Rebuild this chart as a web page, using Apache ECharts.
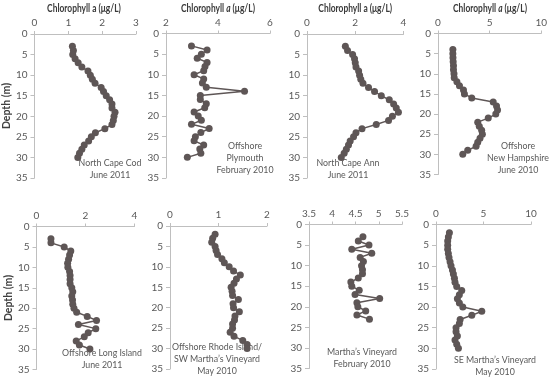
<!DOCTYPE html>
<html><head><meta charset="utf-8">
<script src="https://cdn.jsdelivr.net/npm/echarts@6/dist/echarts.min.js"></script>
<style>html,body{margin:0;padding:0;background:#fff}#c{width:550px;height:382px}</style>
</head><body><div id="c"></div>
<script>
// ---- data ----
var depthCapeCod = [3,4,5,6,7,8,9,10,11,12,13,14,15,16,17,18,19,20,21,22,23,24,25,26,27,28,29,30];
var chlCapeCod = [1.12,1.15,1.13,1.2,1.29,1.4,1.58,1.65,1.71,1.79,1.97,2.04,2.12,2.22,2.29,2.29,2.38,2.35,2.33,2.29,2.08,1.8,1.68,1.6,1.47,1.4,1.33,1.28];
var depthPlymouth = [3,4,5,6,7,8,9,10,11,12,13,14,15,16,17,18,19,20,21,22,23,24,25,26,27,28,29,30];
var chlPlymouth = [2.98,3.58,3.36,3.2,3.58,3.5,3.45,3.08,3.45,3.4,3.55,5.02,3.32,3.32,3.55,3.49,3.08,3.24,3.36,2.98,3.66,3.34,3.13,3.08,3.45,3.3,3.34,2.82];
var depthCapeAnn = [3,4,5,6,7,8,9,10,11,12,13,14,15,16,17,18,19,20,21,22,23,24,25,26,27,28,29,30];
var chlCapeAnn = [1.59,1.68,1.89,1.97,2.0,2.03,2.14,2.18,2.23,2.32,2.55,2.8,3.08,3.41,3.59,3.7,3.79,3.54,3.38,2.87,2.28,2.03,1.93,1.79,1.72,1.63,1.54,1.42];
var depthNH = [4,5,6,7,8,9,10,11,12,13,14,15,16,17,18,19,20,21,22,23,24,25,26,27,28,29,30];
var chlNH = [1.44,1.44,1.45,1.47,1.5,1.5,1.55,1.57,1.83,2.08,2.47,2.56,3.27,5.35,5.67,5.77,5.6,4.87,3.85,4.0,4.23,4.3,4.07,3.85,3.69,2.88,2.4];
var depthLongIsland = [3,4,5,6,7,8,9,10,11,12,13,14,15,16,17,18,19,20,21,22,23,24,25,26,27,28,29,30];
var chlLongIsland = [0.59,0.59,1.13,1.4,1.35,1.31,1.27,1.28,1.35,1.37,1.37,1.37,1.44,1.48,1.44,1.47,1.48,1.53,1.64,2.07,2.45,1.71,2.42,2.11,1.95,1.62,1.75,2.18];
var depthRhodeIsland = [2,3,4,5,6,7,8,9,10,11,12,13,14,15,16,17,18,19,20,21,22,23,24,25,26,27,28,29,30];
var chlRhodeIsland = [0.93,0.88,0.86,0.93,0.95,0.98,1.07,1.12,1.22,1.31,1.45,1.37,1.32,1.26,1.28,1.29,1.41,1.3,1.31,1.43,1.34,1.33,1.29,1.29,1.24,1.32,1.5,1.59,1.59];
var depthMVFeb = [3,4,5,6,7,8,9,10,11,12,13,14,15,16,17,18,19,20,21,22,23];
var chlMVFeb = [4.66,4.56,4.79,4.42,4.85,4.6,4.67,4.63,4.65,4.65,4.56,4.4,4.42,4.58,4.49,5.02,4.53,4.55,4.72,4.53,4.8];
var depthSEMV = [2,3,4,5,6,7,8,9,10,11,12,13,14,15,16,17,18,19,20,21,22,23,24,25,26,27,28,29,30];
var chlSEMV = [1.41,1.3,1.23,1.23,1.23,1.3,1.37,1.48,1.58,1.73,1.83,1.94,2.0,2.18,2.71,2.46,2.25,2.46,2.82,4.82,3.77,2.54,2.46,2.11,2.11,2.25,2.0,2.18,2.36];

var depthTicks = {min: 0, max: 35, interval: 5};

var panels = [
  {d: depthCapeCod, v: chlCapeCod, xmin: 0, xmax: 3, xint: 1, italic: false, label: ['North Cape Cod','June 2011'], depthName: true},
  {d: depthPlymouth, v: chlPlymouth, xmin: 2, xmax: 6, xint: 2, italic: true, label: ['Offshore','Plymouth','February 2010']},
  {d: depthCapeAnn, v: chlCapeAnn, xmin: 0, xmax: 4, xint: 2, italic: false, label: ['North Cape Ann','June 2011']},
  {d: depthNH, v: chlNH, xmin: 0, xmax: 10, xint: 5, italic: true, label: ['Offshore','New Hampshire','June 2010']},
  {d: depthLongIsland, v: chlLongIsland, xmin: 0, xmax: 4, xint: 2, label: ['Offshore Long Island','June 2011'], depthName: true},
  {d: depthRhodeIsland, v: chlRhodeIsland, xmin: 0, xmax: 2, xint: 1, label: ['Offshore Rhode Island/','SW Martha\u2019s Vineyard','May 2010']},
  {d: depthMVFeb, v: chlMVFeb, xmin: 3.5, xmax: 5.5, xint: 0.5, label: ['Martha\u2019s Vineyard','February 2010']},
  {d: depthSEMV, v: chlSEMV, xmin: 0, xmax: 10, xint: 5, label: ['SE Martha\u2019s Vineyard','May 2010']}
];

// layout
var grids = [
  {left: 32, top: 34, width: 104, height: 144},
  {left: 166, top: 33.5, width: 104, height: 144.5},
  {left: 307, top: 34, width: 96.5, height: 144},
  {left: 438, top: 33.5, width: 104, height: 141},
  {left: 36.5, top: 226.5, width: 98, height: 143},
  {left: 170, top: 226, width: 97, height: 143},
  {left: 309, top: 224.5, width: 93, height: 144},
  {left: 436, top: 224.5, width: 95, height: 144.5}
];
var labelPos = [
  {x: 110, y: 163}, {x: 245, y: 146}, {x: 348, y: 163}, {x: 518, y: 146},
  {x: 102, y: 353}, {x: 217, y: 347}, {x: 362, y: 352}, {x: 495, y: 360}
];

var FONT = 'Lato, "Open Sans", sans-serif';
var AX = '#bfbfbf', TXT = '#595959', MARK = '#5e5656', TITLE = '#3a3a3a';

var option = {
  animation: false,
  backgroundColor: '#fff',
  grid: [], xAxis: [], yAxis: [], series: [], graphic: []
};

panels.forEach(function (p, i) {
  var g = grids[i];
  option.grid.push({left: g.left, top: g.top, width: g.width, height: g.height, containLabel: false});
  option.xAxis.push({
    type: 'value', gridIndex: i, position: 'top', min: p.xmin, max: p.xmax, interval: p.xint,
    axisLine: {show: true, lineStyle: {color: AX, width: 1}},
    axisTick: {show: true, length: 3, lineStyle: {color: AX}},
    splitLine: {show: false},
    axisLabel: {color: TXT, fontSize: 10, fontFamily: FONT, margin: 6}
  });
  var ya = {
    type: 'value', gridIndex: i, inverse: true, min: depthTicks.min, max: depthTicks.max, interval: depthTicks.interval,
    axisLine: {show: true, lineStyle: {color: AX, width: 1}},
    axisTick: {show: true, length: 4, lineStyle: {color: AX}},
    splitLine: {show: false},
    axisLabel: {color: TXT, fontSize: 10, fontFamily: FONT, margin: 7}
  };
  if (p.depthName) {
    ya.name = 'Depth (m)';
    ya.nameLocation = 'middle';
    ya.nameGap = 14;
    ya.nameTextStyle = {color: '#404040', fontSize: 10.5, fontWeight: 'bold', fontFamily: FONT};
  }
  option.yAxis.push(ya);
  option.series.push({
    type: 'line', xAxisIndex: i, yAxisIndex: i,
    data: p.v.map(function (v, k) { return [v, p.d[k]]; }),
    symbol: 'circle', symbolSize: 7,
    itemStyle: {color: MARK},
    lineStyle: {color: MARK, width: 1.5}
  });
  if (i < 4) {
    var cx = g.left + g.width / 2;
    var st = p.italic ? {
      text: '{b|Chlorophyll }{bi|a}{b| (\u03bcg/L)}',
      rich: {
        b: {fontSize: 10.5, fontWeight: 'bold', fontFamily: FONT, fill: TITLE},
        bi: {fontSize: 10.5, fontWeight: 'bold', fontStyle: 'italic', fontFamily: FONT, fill: TITLE}
      },
      align: 'center', verticalAlign: 'middle'
    } : {
      text: 'Chlorophyll a (\u03bcg/L)', fontSize: 10.5, fontWeight: 'bold', fontFamily: FONT, fill: TITLE,
      align: 'center', verticalAlign: 'middle'
    };
    option.graphic.push({type: 'text', x: cx, y: 9, scaleX: 0.8, style: st});
  }
  var lp = labelPos[i];
  option.graphic.push({
    type: 'text', x: lp.x, y: lp.y - 6, scaleX: 0.88,
    style: {
      text: p.label.join('\n'), fill: TXT, fontSize: 10, fontFamily: FONT,
      lineHeight: 12, align: 'center', verticalAlign: 'top'
    }
  });
});

var chart = echarts.init(document.getElementById('c'), null, {renderer: 'canvas'});
chart.setOption(option);
</script>
</body></html>
